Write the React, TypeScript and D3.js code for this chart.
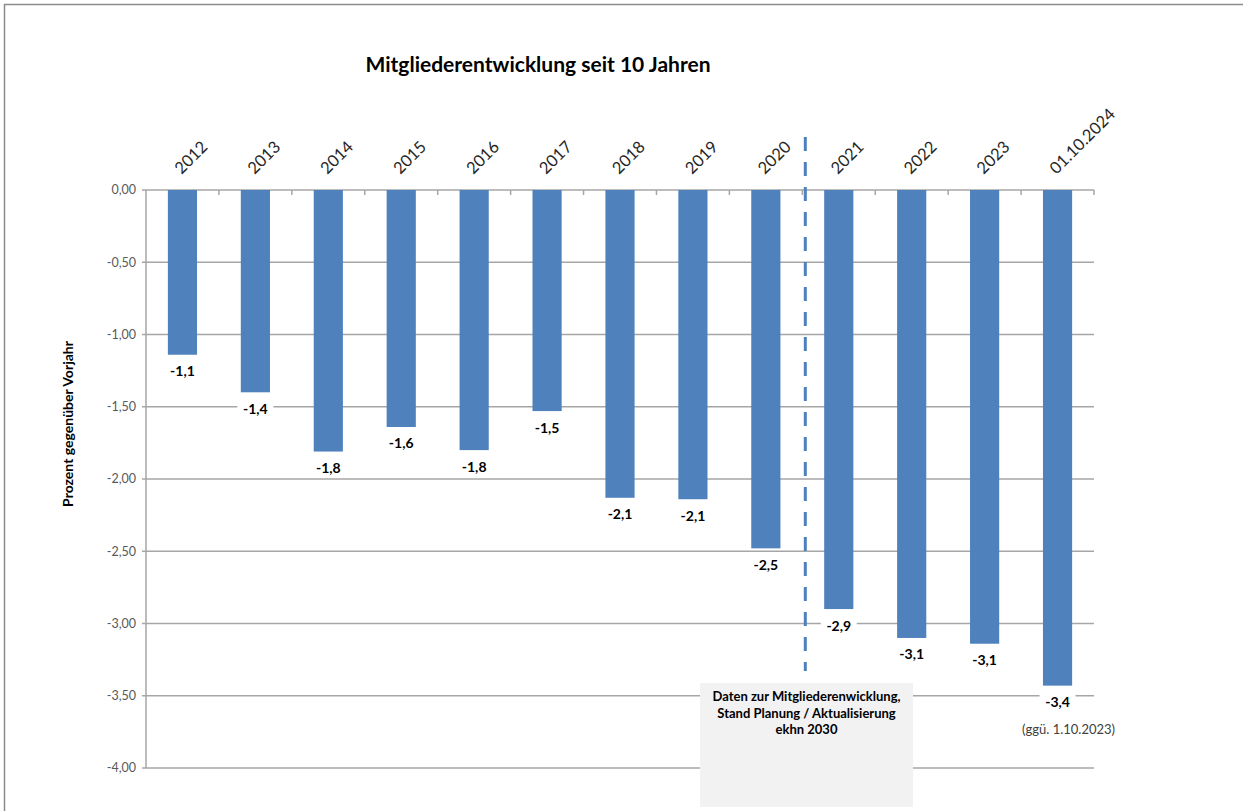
import React from "react";
import * as d3 from "d3";

const categories = ["2012", "2013", "2014", "2015", "2016", "2017", "2018", "2019", "2020", "2021", "2022", "2023", "01.10.2024"];
const values = [-1.14, -1.40, -1.81, -1.64, -1.80, -1.53, -2.13, -2.14, -2.48, -2.90, -3.10, -3.14, -3.43];
const yTicks = [0, -0.5, -1, -1.5, -2, -2.5, -3, -3.5, -4];
const title = "Mitgliederentwicklung seit 10 Jahren";
const yTitle = "Prozent gegenüber Vorjahr";
const noteLines = ["Daten zur Mitgliederenwicklung,", "Stand Planung  / Aktualisierung", "ekhn 2030"];
const footNote = "(ggü. 1.10.2023)";
const splitBefore = "2021";

const W = 1243;
const H = 811;
const FONT = "Lato, 'Open Sans', sans-serif";

export default function App() {
  const left = 146;
  const right = 1094;
  const top = 190;
  const bottom = 768;

  const x = d3.scaleBand<string>().domain(categories).range([left, right]).paddingInner(0.6).paddingOuter(0.3);
  const y = d3.scaleLinear().domain([0, -4]).range([top, bottom]);
  const step = x.step();
  const fmt = (v: number) => v.toFixed(1).replace(".", ",");
  const fmtTick = (v: number) => v.toFixed(2).replace(".", ",");

  const splitX = (x(splitBefore) as number) - (step - x.bandwidth()) / 2 + 3;
  const lastX = (x(categories[categories.length - 1]) as number) + x.bandwidth() / 2;

  return (
    <svg width={W} height={H} style={{ position: "absolute", left: 0, top: 0, background: "#fff" }} fontFamily={FONT}>
      <rect x={4.5} y={4.5} width={W + 10} height={H + 10} fill="#fff" stroke="#8c8c8c" strokeWidth={1.5} />
      <text x={538} y={72} textAnchor="middle" fontSize={21} fontWeight="bold" fill="#000">{title}</text>

      {/* gridlines */}
      {yTicks.map((t) => (
        <g key={t}>
          <line x1={left - 4} x2={right} y1={y(t)} y2={y(t)} stroke="#a6a6a6" strokeWidth={1.5} />
          <text x={136} y={y(t)} dy="0.35em" textAnchor="end" fontSize={12.5} fill="#595959">{fmtTick(t)}</text>
        </g>
      ))}
      <line x1={left} x2={left} y1={top} y2={bottom} stroke="#a6a6a6" strokeWidth={1.5} />
      {categories.map((c, i) => (
        <line key={"t" + c} x1={left + step * (i + 1)} x2={left + step * (i + 1)} y1={top} y2={top + 5} stroke="#a6a6a6" strokeWidth={1.5} />
      ))}

      {/* bars */}
      {categories.map((c, i) => (
        <rect key={"b" + c} x={x(c)} y={y(0)} width={x.bandwidth()} height={y(values[i]) - y(0)} fill="#4f81bd" />
      ))}

      {/* category labels */}
      {categories.map((c) => {
        const cx = (x(c) as number) + x.bandwidth() / 2;
        return (
          <text key={"c" + c} transform={`translate(${cx - 1},${175}) rotate(-45)`} fontSize={16.5} fill="#262626">{c}</text>
        );
      })}

      {/* value labels */}
      {categories.map((c, i) => {
        const cx = (x(c) as number) + x.bandwidth() / 2;
        const by = y(values[i]);
        return (
          <g key={"v" + c}>
            <rect x={cx - 18} y={by + 8} width={36} height={18} fill="#fff" />
            <text x={cx} y={by + 21.5} textAnchor="middle" fontSize={14} fontWeight="bold" fill="#000">{fmt(values[i])}</text>
          </g>
        );
      })}

      {/* note box */}
      <rect x={700} y={683} width={213} height={124} fill="#f2f2f2" />
      {noteLines.map((l, i) => (
        <text key={"n" + i} x={806.5} y={701 + i * 16.5} textAnchor="middle" fontSize={13} fontWeight="bold" fill="#000">{l}</text>
      ))}

      {/* split line */}
      <line x1={splitX} x2={splitX} y1={137} y2={671} stroke="#4f81bd" strokeWidth={3} strokeDasharray="14,11" />

      <text x={lastX + 11} y={734} textAnchor="middle" fontSize={13} fill="#404040">{footNote}</text>

      <text transform={`translate(73,424) rotate(-90)`} textAnchor="middle" fontSize={14} fontWeight="bold" fill="#000">{yTitle}</text>
    </svg>
  );
}
